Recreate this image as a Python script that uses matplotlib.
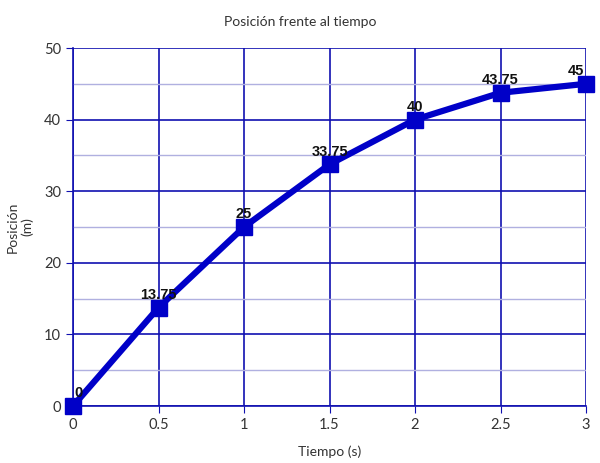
import matplotlib
matplotlib.use("Agg")
import matplotlib.pyplot as plt
from matplotlib.ticker import MultipleLocator

tiempo = [0, 0.5, 1, 1.5, 2, 2.5, 3]
posicion = [0, 13.75, 25, 33.75, 40, 43.75, 45]
etiquetas = ["0", "13.75", "25", "33.75", "40", "43.75", "45"]

FONT = ["Lato", "DejaVu Sans"]
plt.rcParams["font.family"] = FONT

fig = plt.figure(figsize=(6.0, 4.63), dpi=100)
ax = fig.add_axes([0.1217, 0.1231, 0.855, 0.7732])

ax.set_xlim(0, 3)
ax.set_ylim(0, 50)
ax.yaxis.set_major_locator(MultipleLocator(10))
ax.yaxis.set_minor_locator(MultipleLocator(5))
ax.set_xticks(tiempo)
ax.set_xticklabels(["0", "0.5", "1", "1.5", "2", "2.5", "3"])

ax.grid(which="major", color="#1010b0", linewidth=1.2)
ax.grid(which="minor", axis="y", color="#b0b0e0", linewidth=1.0)
ax.set_axisbelow(True)
for side in ["top", "right"]:
    ax.spines[side].set_visible(False)
for side in ["left", "bottom"]:
    ax.spines[side].set_color("#1010b0")
    ax.spines[side].set_linewidth(1.2)
ax.tick_params(which="major", direction="out", length=5, color="#1010b0",
               labelsize=10.5, labelcolor="#333333")
ax.tick_params(which="minor", length=0)

ax.plot(tiempo, posicion, color="#0000c8", linewidth=4.5, marker="s",
        markersize=11, markerfacecolor="#0000c8", markeredgecolor="#0000c8",
        clip_on=False, zorder=5)

for i, (x, y, txt) in enumerate(zip(tiempo, posicion, etiquetas)):
    dx = 0
    if i == 0:
        dx = 4
    elif i == len(tiempo) - 1:
        dx = -7
    ax.annotate(txt, (x, y), xytext=(dx, 4), textcoords="offset points",
                ha="center", va="bottom", fontsize=10.5, fontweight="bold",
                family=["Liberation Sans", "DejaVu Sans"],
                color="#111111", zorder=6, annotation_clip=False)

ax.set_xlabel("Tiempo (s)", fontsize=10, color="#333333", labelpad=10)
ax.set_ylabel("Posición\n(m)", fontsize=10, color="#333333", labelpad=8)
fig.suptitle("Posición frente al tiempo", fontsize=10, color="#333333", y=0.965)

fig.savefig("out.png", dpi=100)
